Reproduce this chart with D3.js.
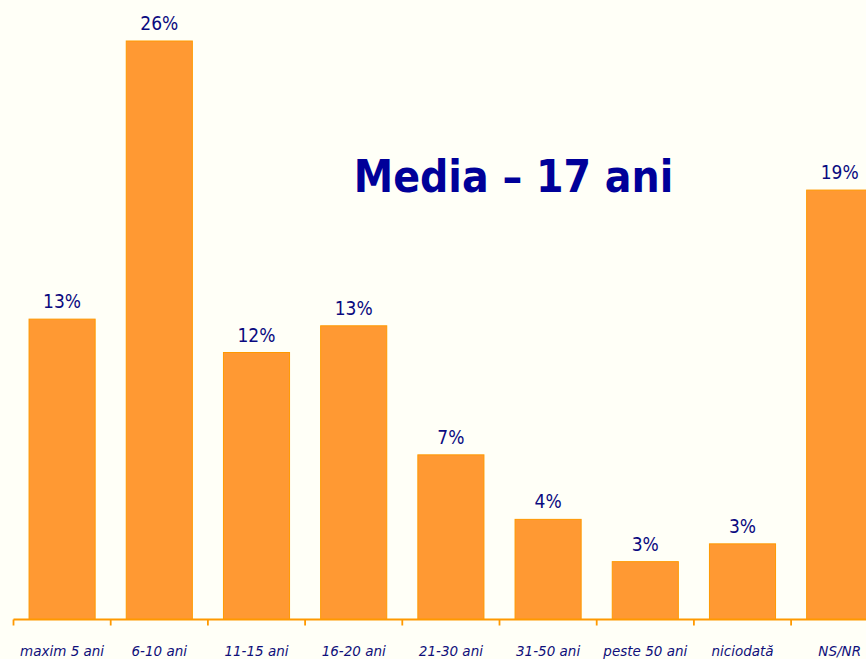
<!DOCTYPE html>
<html>
<head>
<meta charset="utf-8">
<script src="https://cdn.jsdelivr.net/npm/d3@7"></script>
<style>
  html, body { margin: 0; padding: 0; background: #FFFFF7; overflow: hidden; }
  svg { display: block; }
</style>
</head>
<body>
<svg id="chart" width="866" height="659"></svg>
<script>
const categories = ["maxim 5 ani", "6-10 ani", "11-15 ani", "16-20 ani", "21-30 ani", "31-50 ani", "peste 50 ani", "niciodată", "NS/NR"];
const values = [13.5, 26.0, 12.0, 13.2, 7.4, 4.5, 2.6, 3.4, 19.3];
const valueLabels = ["13%", "26%", "12%", "13%", "7%", "4%", "3%", "3%", "19%"];
const title = "Media – 17 ani";

const W = 866, H = 659;
const svg = d3.select("#chart");
svg.append("rect").attr("width", W).attr("height", H).attr("fill", "#FFFFF7");

const baseY = 619.5;
const x = d3.scaleBand()
  .domain(categories)
  .range([13.5, 13.5 + 97.2 * categories.length])
  .paddingInner(0.32)
  .paddingOuter(0.16);
const y = d3.scaleLinear().domain([0, 26]).range([baseY, 41]);

const data = categories.map((c, i) => ({ c, v: values[i], l: valueLabels[i] }));

// bars
svg.append("g").selectAll("rect").data(data).join("rect")
  .attr("x", d => x(d.c))
  .attr("y", d => y(d.v))
  .attr("width", x.bandwidth())
  .attr("height", d => baseY - y(d.v))
  .attr("fill", "#FF9933")
  .attr("stroke", "#FF9900")
  .attr("stroke-width", 1);

// axis
const step = x.step();
const boundaries = categories.map(c => x(c) - step * x.paddingInner() / 2);
const axis = d3.axisBottom(x).tickSize(0).tickFormat("");
const gAxis = svg.append("g").attr("transform", `translate(0,${baseY})`).call(axis);
gAxis.select(".domain").remove();
gAxis.append("line").attr("x1", boundaries[0]).attr("x2", W + 30)
  .attr("y1", 0).attr("y2", 0).attr("stroke", "#FF9900").attr("stroke-width", 1.8);
gAxis.selectAll("line.bt").data(boundaries.concat([boundaries[boundaries.length - 1] + step])).join("line")
  .attr("class", "bt")
  .attr("x1", d => d).attr("x2", d => d)
  .attr("y1", 0).attr("y2", 6)
  .attr("stroke", "#FF9900").attr("stroke-width", 1.8);

// category labels
svg.append("g").selectAll("text").data(data).join("text")
  .attr("x", d => x(d.c) + x.bandwidth() / 2)
  .attr("y", 656)
  .attr("text-anchor", "middle")
  .attr("font-family", "'DejaVu Sans', Verdana, sans-serif")
  .attr("font-style", "italic")
  .attr("font-size", 13.5)
  .attr("fill", "#10107A")
  .text(d => d.c);

// value labels
svg.append("g").selectAll("text").data(data).join("text")
  .attr("x", d => x(d.c) + x.bandwidth() / 2)
  .attr("y", d => y(d.v) - 11)
  .attr("text-anchor", "middle")
  .attr("font-family", "'DejaVu Sans Condensed', 'DejaVu Sans', sans-serif")
  .attr("font-stretch", "condensed")
  .attr("font-size", 19)
  .attr("fill", "#0A0A80")
  .text(d => d.l);

// title
svg.append("text")
  .attr("x", 513.5)
  .attr("y", 192)
  .attr("text-anchor", "middle")
  .attr("font-family", "'DejaVu Sans Condensed', 'DejaVu Sans', sans-serif")
  .attr("font-stretch", "condensed")
  .attr("font-weight", "bold")
  .attr("font-size", 44)
  .attr("fill", "#000099")
  .text(title);
</script>
</body>
</html>
